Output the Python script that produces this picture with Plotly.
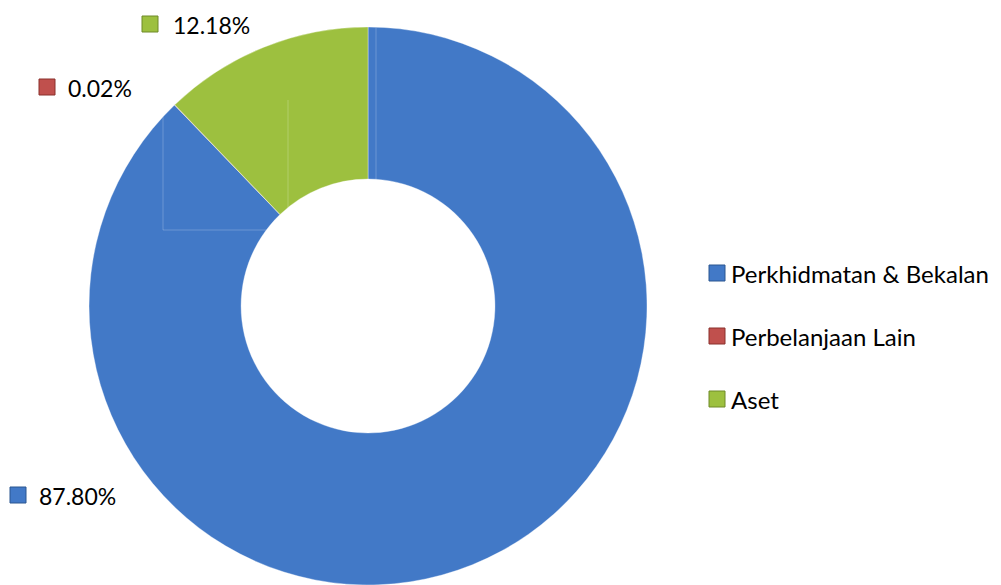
import plotly.graph_objects as go

# Expenditure share by category
categories = ["Perkhidmatan & Bekalan", "Perbelanjaan Lain", "Aset"]
shares = [87.80, 0.02, 12.18]
colors = ["#4279C7", "#C0504D", "#9DC03F"]
edge_colors = ["#2A5690", "#8A302D", "#6E8A28"]

W, H = 1001, 585
M_TOP = 27
FONT = "Lato"


def px_x(x):
    return x / W


def px_y(y):
    return (H - y) / (H - M_TOP)


fig = go.Figure(
    go.Pie(
        labels=categories,
        values=shares,
        hole=0.455,
        sort=False,
        direction="clockwise",
        rotation=0,
        textinfo="none",
        hoverinfo="label+percent",
        marker=dict(colors=colors, line=dict(color="rgba(255,255,255,0.35)", width=1)),
        domain=dict(x=[0, 0.7353], y=[0, 1]),
        showlegend=False,
    )
)

shapes = []
annotations = []


def swatch(cx, cy, i, size=16):
    shapes.append(
        dict(
            type="rect", xref="paper", yref="paper",
            x0=px_x(cx - size / 2), x1=px_x(cx + size / 2),
            y0=px_y(cy + size / 2), y1=px_y(cy - size / 2),
            fillcolor=colors[i], line=dict(color=edge_colors[i], width=1),
        )
    )


def text(x, y, s, size):
    annotations.append(
        dict(
            x=px_x(x), y=px_y(y), xref="paper", yref="paper",
            text=s, showarrow=False, xanchor="left", yanchor="middle",
            xshift=-2, font=dict(family=FONT, size=size, color="#000000"),
        )
    )


# Outside value labels: (swatch centre x, text left x, centre y)
label_pos = [(18, 39, 495), (47, 68, 87), (150, 173, 24)]
for i, (sx, tx, ty) in enumerate(label_pos):
    swatch(sx, ty, i)
    text(tx, ty + 1, f"{shares[i]:.2f}%", 23)

# Legend on the right
for i, name in enumerate(categories):
    y = 273 + 63 * i
    swatch(717, y, i)
    text(731, y, name, 24)

# Faint sheen lines across the ring
sheen = dict(color="rgba(255,255,255,0.22)", width=1)
for x0, y0, x1, y1 in [(163, 100, 163, 230), (163, 230, 288, 230),
                       (288, 100, 288, 230), (376, 28, 376, 183)]:
    shapes.append(dict(type="line", xref="paper", yref="paper",
                       x0=px_x(x0), y0=px_y(y0), x1=px_x(x1), y1=px_y(y1),
                       line=sheen, layer="above"))

fig.update_layout(
    width=W, height=H,
    margin=dict(l=0, r=0, t=M_TOP, b=0),
    paper_bgcolor="white",
    plot_bgcolor="white",
    shapes=shapes,
    annotations=annotations,
)

fig.write_html("out.html")
